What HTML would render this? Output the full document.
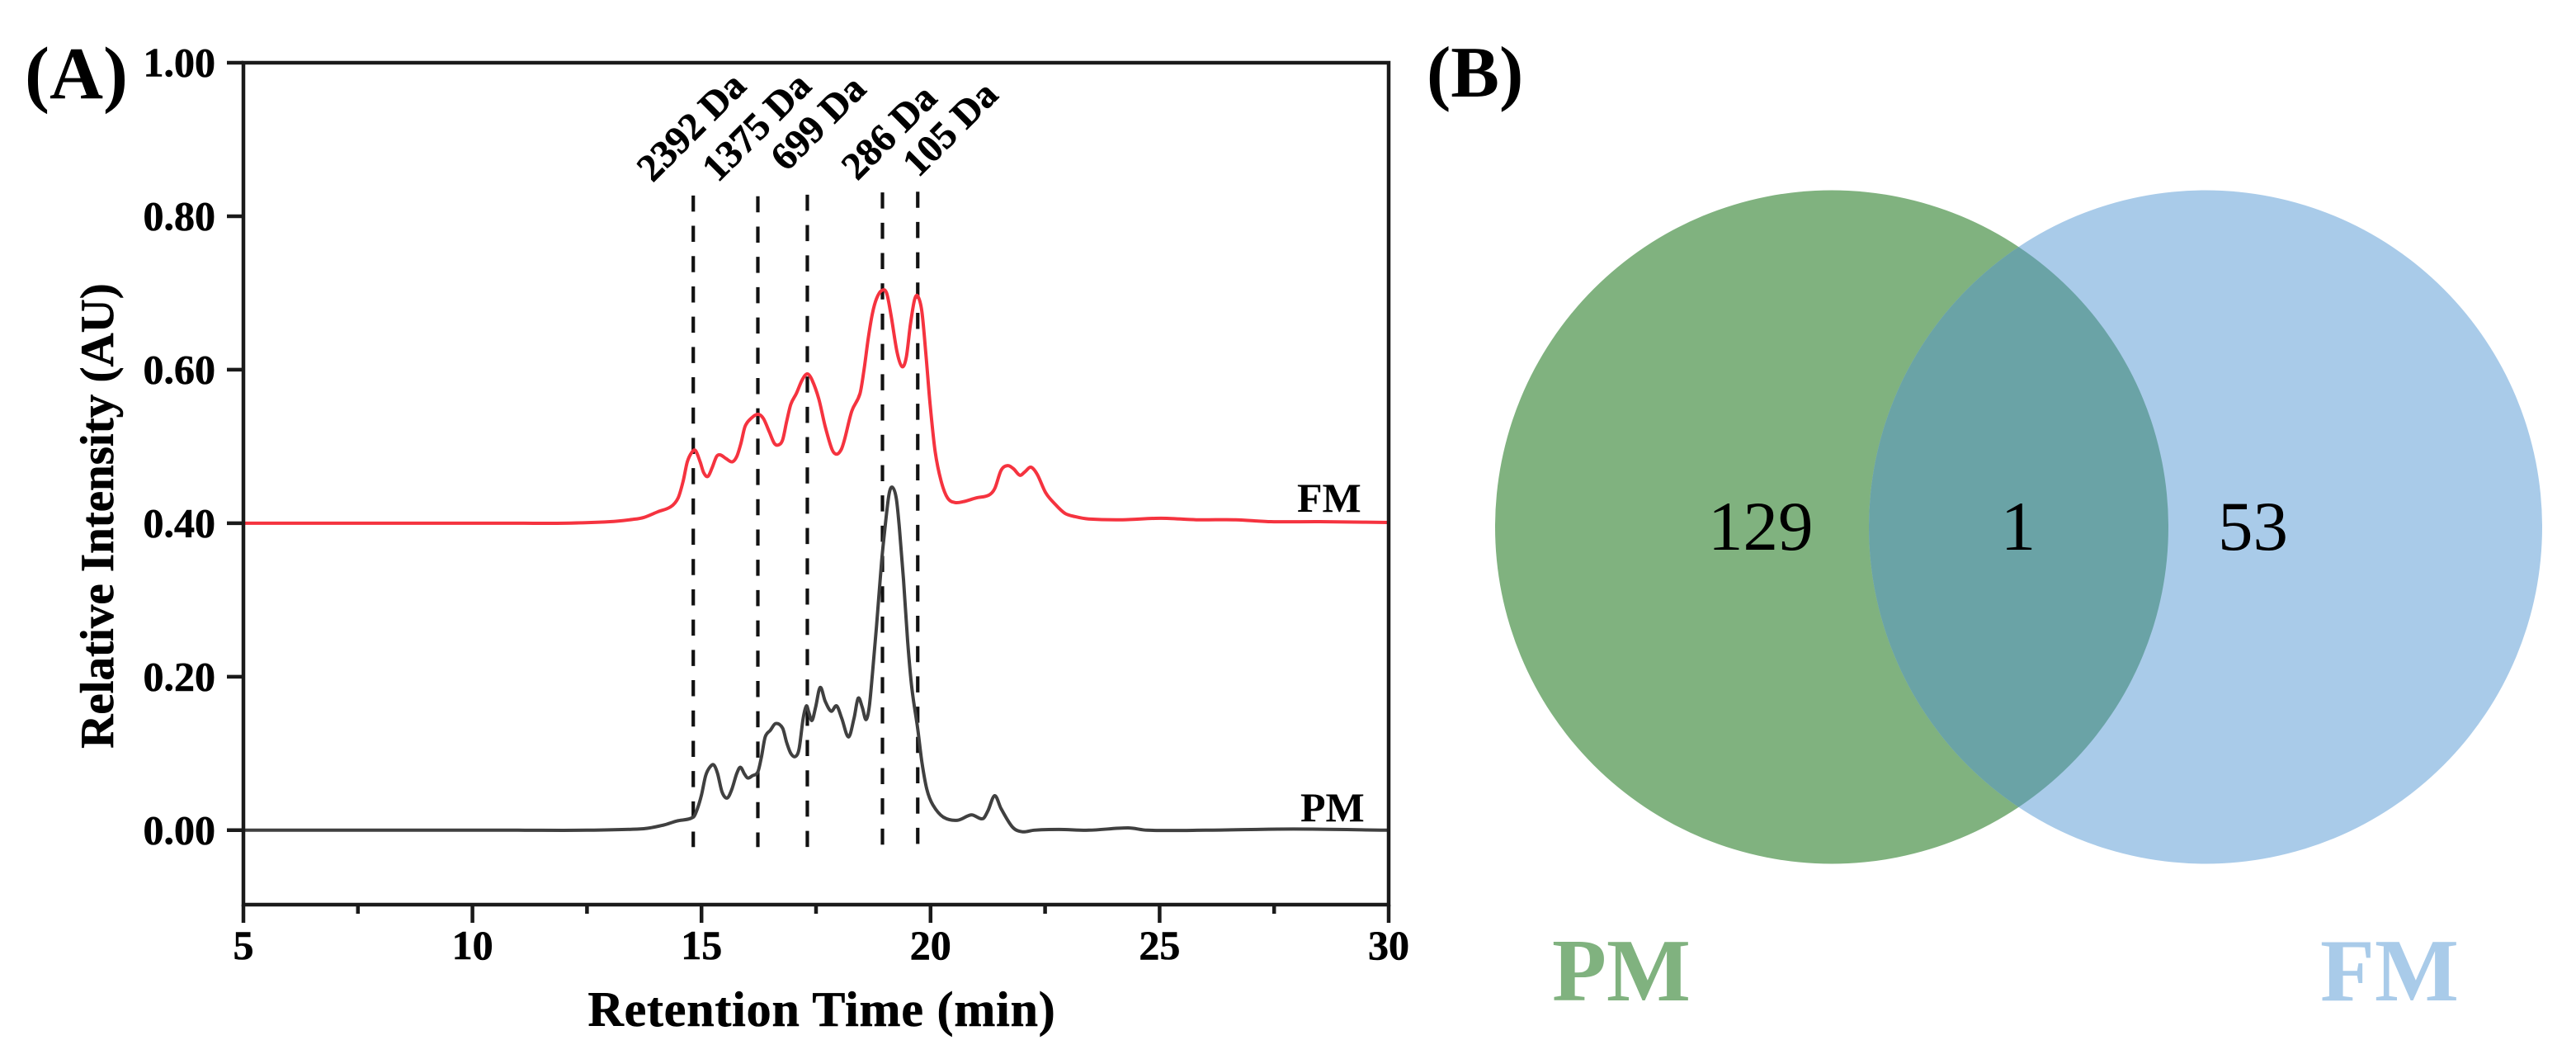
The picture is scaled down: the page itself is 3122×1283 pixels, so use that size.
<!DOCTYPE html>
<html lang="en">
<head>
<meta charset="utf-8">
<title>Retention time chromatogram and Venn diagram</title>
<style>
  html, body { margin: 0; padding: 0; background: #ffffff; }
  svg { display: block; font-family: "Liberation Serif", "Times New Roman", serif; }
  .heavy { stroke: #000000; stroke-width: 0.6px; }
</style>
</head>
<body>
<svg id="figure" width="3122" height="1283" viewBox="0 0 3122 1283" xmlns="http://www.w3.org/2000/svg">
  <defs>
    <clipPath id="green-clip"><circle cx="2220" cy="638.5" r="408"/></clipPath>
  </defs>
  <rect x="0" y="0" width="3122" height="1283" fill="#ffffff"/>

  <g id="chart"></g>

  <text x="30" y="119" font-size="90" font-weight="700">(A)</text>
  <text class="heavy" transform="translate(137 625) rotate(-90)" text-anchor="middle" font-size="57" font-weight="700">Relative Intensity (AU)</text>
  <text class="heavy" x="996" y="1243" text-anchor="middle" font-size="60" font-weight="700" letter-spacing="0.8">Retention Time (min)</text>

  <text class="heavy" transform="translate(791 222) rotate(-45)" font-size="47" font-weight="700">2392 Da</text>
  <text class="heavy" transform="translate(870 222) rotate(-45)" font-size="47" font-weight="700">1375 Da</text>
  <text class="heavy" transform="translate(953 209) rotate(-45)" font-size="47" font-weight="700">699 Da</text>
  <text class="heavy" transform="translate(1039 220) rotate(-45)" font-size="47" font-weight="700">286 Da</text>
  <text class="heavy" transform="translate(1113 216) rotate(-45)" font-size="47" font-weight="700">105 Da</text>

  <text x="1572" y="620" font-size="50" font-weight="700">FM</text>
  <text x="1576" y="995" font-size="50" font-weight="700">PM</text>

  <text x="1729" y="117" font-size="88" font-weight="700">(B)</text>

  <g>
    <circle cx="2220" cy="638.5" r="408" fill="#80b27f"/>
    <circle cx="2673" cy="638.5" r="408" fill="#a9cbe9"/>
    <circle cx="2673" cy="638.5" r="408" fill="#6aa3a6" clip-path="url(#green-clip)"/>
    <text x="2070" y="666" font-size="85">129</text>
    <text x="2446" y="666" font-size="85" text-anchor="middle">1</text>
    <text x="2688" y="666" font-size="85">53</text>
    <text x="1881" y="1212" font-size="108" font-weight="700" fill="#80b27f">PM</text>
    <text x="2812" y="1212" font-size="108" font-weight="700" fill="#a9cbe9">FM</text>
  </g>
</svg>

<script>
const xTickValues = [5, 10, 15, 20, 25, 30];
const xTickLabels = ['5', '10', '15', '20', '25', '30'];
const xMinorTickValues = [7.5, 12.5, 17.5, 22.5, 27.5];
const yTickValues = [1, 0.8, 0.6, 0.4, 0.2, 0];
const yTickLabels = ['1.00', '0.80', '0.60', '0.40', '0.20', '0.00'];

const markerTimes = [14.82, 16.23, 17.31, 18.95, 19.72];
const markerTopValues = [0.827, 0.826, 0.828, 0.831, 0.832];
const markerBottomValue = -0.022;

const fmTimes = [5, 8, 11, 12, 13, 13.5, 13.74, 14.05, 14.33, 14.49, 14.6, 14.69, 14.79, 14.87, 14.97, 15.05, 15.14, 15.23, 15.33, 15.41, 15.54, 15.67, 15.77, 15.86, 15.95, 16.08, 16.23, 16.35, 16.48, 16.59, 16.68, 16.77, 16.86, 16.95, 17.07, 17.2, 17.31, 17.41, 17.56, 17.7, 17.85, 17.95, 18.05, 18.12, 18.28, 18.46, 18.55, 18.64, 18.73, 18.82, 18.93, 19.04, 19.14, 19.27, 19.38, 19.47, 19.56, 19.65, 19.72, 19.81, 19.9, 19.99, 20.1, 20.23, 20.37, 20.53, 20.71, 21.0, 21.27, 21.4, 21.54, 21.68, 21.81, 21.95, 22.06, 22.19, 22.33, 22.51, 22.7, 22.93, 23.16, 23.45, 24.19, 25.03, 25.8, 26.66, 27.43, 28.5, 30];
const fmValues = [0.4, 0.4, 0.4, 0.4, 0.402, 0.405, 0.4075, 0.415, 0.4215, 0.433, 0.455, 0.48, 0.4925, 0.4946, 0.48, 0.4655, 0.461, 0.472, 0.487, 0.489, 0.484, 0.48, 0.487, 0.504, 0.526, 0.5365, 0.542, 0.5365, 0.519, 0.504, 0.502, 0.5085, 0.533, 0.555, 0.569, 0.587, 0.5945, 0.587, 0.562, 0.526, 0.496, 0.49, 0.496, 0.5085, 0.546, 0.569, 0.601, 0.641, 0.673, 0.6925, 0.703, 0.7, 0.67, 0.6226, 0.604, 0.616, 0.659, 0.691, 0.696, 0.676, 0.619, 0.555, 0.4935, 0.455, 0.433, 0.427, 0.428, 0.433, 0.4365, 0.445, 0.469, 0.475, 0.471, 0.4625, 0.467, 0.473, 0.4635, 0.44, 0.426, 0.413, 0.4085, 0.4055, 0.4045, 0.4065, 0.4045, 0.4045, 0.402, 0.402, 0.401];

const pmTimes = [5, 8, 11, 12.5, 13.74, 14.16, 14.46, 14.82, 14.91, 15.0, 15.09, 15.18, 15.27, 15.35, 15.45, 15.56, 15.66, 15.77, 15.85, 15.94, 16.01, 16.11, 16.23, 16.31, 16.39, 16.5, 16.62, 16.77, 16.86, 16.95, 17.05, 17.13, 17.22, 17.29, 17.34, 17.41, 17.49, 17.59, 17.7, 17.83, 17.95, 18.06, 18.21, 18.33, 18.42, 18.51, 18.59, 18.66, 18.73, 18.82, 18.93, 19.0, 19.09, 19.16, 19.25, 19.32, 19.41, 19.5, 19.59, 19.72, 19.81, 19.92, 20.05, 20.28, 20.59, 20.89, 21.14, 21.25, 21.4, 21.54, 21.79, 22.0, 22.26, 22.8, 23.45, 24.31, 24.73, 26, 27.92, 30];
const pmValues = [0, 0, 0, 0, 0.002, 0.0065, 0.012, 0.017, 0.028, 0.046, 0.071, 0.082, 0.085, 0.074, 0.0495, 0.042, 0.053, 0.074, 0.082, 0.073, 0.068, 0.071, 0.076, 0.096, 0.1215, 0.13, 0.139, 0.133, 0.114, 0.1, 0.096, 0.106, 0.146, 0.162, 0.154, 0.143, 0.16, 0.186, 0.168, 0.155, 0.162, 0.146, 0.1215, 0.146, 0.172, 0.16, 0.144, 0.16, 0.203, 0.2656, 0.349, 0.391, 0.4365, 0.447, 0.433, 0.3935, 0.326, 0.246, 0.186, 0.132, 0.089, 0.053, 0.033, 0.017, 0.013, 0.02, 0.015, 0.025, 0.045, 0.028, 0.004, -0.002, 0, 0.001, 0, 0.003, 0, 0, 0.0015, 0];

const SVG_NS = 'http://www.w3.org/2000/svg';
const chart = document.getElementById('chart');

const X_DOMAIN = [5, 30];
const Y_DOMAIN = [-0.097, 1];
const PLOT = { left: 295, right: 1683, top: 76, bottom: 1096 };

function xScale(t) {
  return PLOT.left + (t - X_DOMAIN[0]) / (X_DOMAIN[1] - X_DOMAIN[0]) * (PLOT.right - PLOT.left);
}
function yScale(v) {
  return PLOT.bottom - (v - Y_DOMAIN[0]) / (Y_DOMAIN[1] - Y_DOMAIN[0]) * (PLOT.bottom - PLOT.top);
}
function addSvg(tag, attrs, parent) {
  const el = document.createElementNS(SVG_NS, tag);
  Object.keys(attrs).forEach(function (k) { el.setAttribute(k, attrs[k]); });
  (parent || chart).appendChild(el);
  return el;
}
function smoothPath(times, values) {
  const pts = times.map(function (t, i) { return [xScale(t), yScale(values[i])]; });
  let d = 'M' + pts[0][0].toFixed(2) + ' ' + pts[0][1].toFixed(2);
  for (let i = 0; i < pts.length - 1; i++) {
    const p0 = pts[Math.max(0, i - 1)];
    const p1 = pts[i];
    const p2 = pts[i + 1];
    const p3 = pts[Math.min(pts.length - 1, i + 2)];
    const seg = p2[0] - p1[0];
    const m1 = (p2[1] - p0[1]) / Math.max(p2[0] - p0[0], 0.001);
    const m2 = (p3[1] - p1[1]) / Math.max(p3[0] - p1[0], 0.001);
    const c1x = p1[0] + seg / 3;
    const c1y = p1[1] + m1 * seg / 3;
    const c2x = p2[0] - seg / 3;
    const c2y = p2[1] - m2 * seg / 3;
    d += 'C' + c1x.toFixed(2) + ' ' + c1y.toFixed(2) + ' ' + c2x.toFixed(2) + ' ' + c2y.toFixed(2) + ' ' + p2[0].toFixed(2) + ' ' + p2[1].toFixed(2);
  }
  return d;
}

/* marker dashed lines */
markerTimes.forEach(function (t, i) {
  const line = addSvg('line', {
    x1: xScale(t), x2: xScale(t),
    y1: yScale(markerTopValues[i]), y2: yScale(markerBottomValue),
    stroke: '#111111', 'stroke-width': 4.2, 'stroke-dasharray': '19.5 17.2'
  });
  
  
});

/* series */
const fmLine = addSvg('path', {
  d: smoothPath(fmTimes, fmValues),
  fill: 'none', stroke: '#f5333f', 'stroke-width': 4, 'stroke-linejoin': 'round'
});



const pmLine = addSvg('path', {
  d: smoothPath(pmTimes, pmValues),
  fill: 'none', stroke: '#404040', 'stroke-width': 4, 'stroke-linejoin': 'round'
});



/* plot frame */
const frame = addSvg('rect', {
  x: PLOT.left, y: PLOT.top,
  width: PLOT.right - PLOT.left, height: PLOT.bottom - PLOT.top,
  fill: 'none', stroke: '#1a1a1a', 'stroke-width': 4.5
});



/* y axis */
yTickValues.forEach(function (v, i) {
  const tick = addSvg('line', {
    x1: PLOT.left - 20, x2: PLOT.left,
    y1: yScale(v), y2: yScale(v),
    stroke: '#1a1a1a', 'stroke-width': 4.5
  });
  
  
  const label = addSvg('text', {
    x: 261, y: yScale(v) + 16.5,
    'text-anchor': 'end', 'font-size': 50, 'font-weight': 700, class: 'heavy'
  });
  label.textContent = yTickLabels[i];
  
  
});

/* x axis */
xTickValues.forEach(function (t, i) {
  const tick = addSvg('line', {
    x1: xScale(t), x2: xScale(t),
    y1: PLOT.bottom, y2: PLOT.bottom + 22,
    stroke: '#1a1a1a', 'stroke-width': 4.5
  });
  
  
  const label = addSvg('text', {
    x: xScale(t), y: 1162,
    'text-anchor': 'middle', 'font-size': 50, 'font-weight': 700, class: 'heavy'
  });
  label.textContent = xTickLabels[i];
  
  
});
xMinorTickValues.forEach(function (t) {
  const tick = addSvg('line', {
    x1: xScale(t), x2: xScale(t),
    y1: PLOT.bottom, y2: PLOT.bottom + 11,
    stroke: '#1a1a1a', 'stroke-width': 4.5
  });
  
  
});
</script>
</body>
</html>
